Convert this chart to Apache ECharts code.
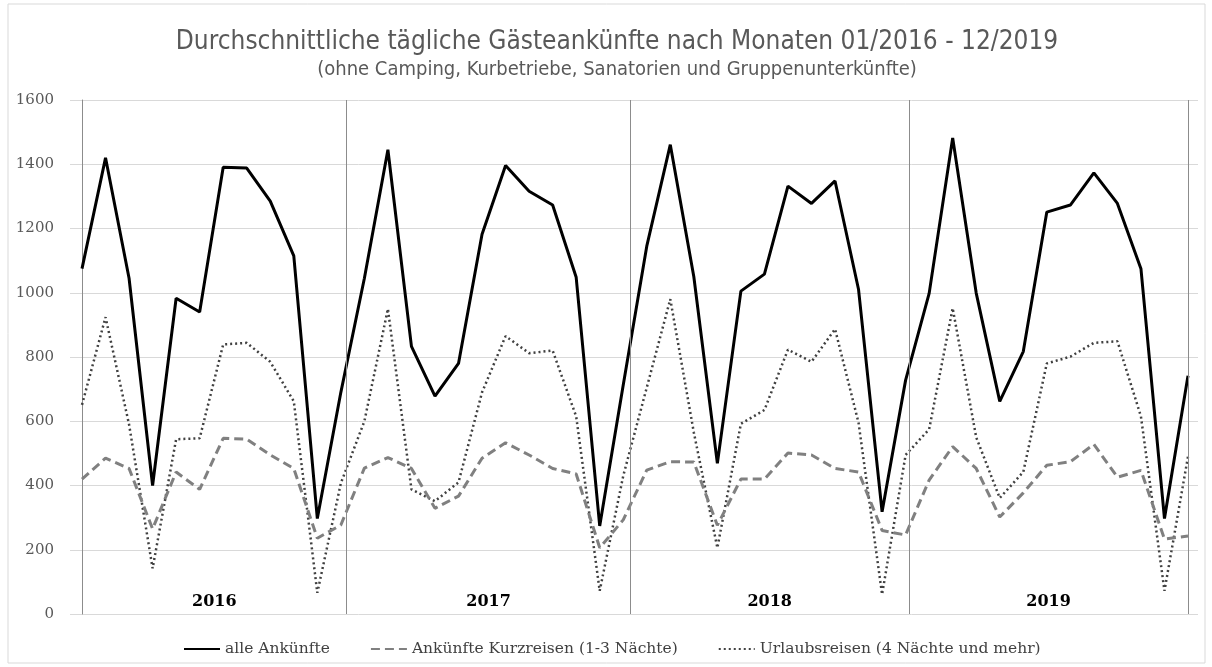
<!DOCTYPE html>
<html>
<head>
<meta charset="utf-8">
<title>Gästeankünfte</title>
<script src="https://cdn.jsdelivr.net/npm/echarts@6/dist/echarts.min.js"></script>
<style>
  html, body { margin: 0; padding: 0; background: #fff; }
  #chart { width: 1212px; height: 667px; }
</style>
</head>
<body>
<div id="chart"></div>
<script>
// Monate 01/2016 - 12/2019
const years = ["2016", "2017", "2018", "2019"];
const months = [];
years.forEach(y => { for (let m = 1; m <= 12; m++) months.push((m < 10 ? "0" + m : "" + m) + "/" + y); });

const alleAnkuenfte = [
  1075, 1420, 1045, 400, 983, 940, 1391, 1388, 1285, 1115, 297, 690,
  1045, 1445, 833, 678, 780, 1182, 1396, 1316, 1273, 1048, 274, 713,
  1145, 1461, 1050, 469, 1005, 1058, 1332, 1278, 1348, 1010, 318, 728,
  998, 1482, 999, 662, 817, 1251, 1273, 1373, 1278, 1075, 297, 742
];
const kurzreisen = [
  420, 485, 453, 265, 442, 388, 547, 544, 495, 453, 236, 277,
  454, 487, 453, 329, 367, 485, 533, 495, 453, 436, 206, 293,
  448, 474, 473, 276, 420, 420, 501, 495, 453, 442, 260, 246,
  417, 521, 453, 302, 377, 463, 474, 528, 426, 447, 233, 243
];
const urlaubsreisen = [
  651, 924, 590, 142, 544, 547, 839, 844, 785, 662, 66, 407,
  600, 950, 388, 351, 410, 690, 865, 812, 820, 615, 72, 430,
  705, 980, 565, 206, 592, 635, 823, 785, 887, 595, 61, 495,
  575, 952, 550, 361, 442, 780, 801, 844, 849, 615, 72, 490
];
// Jahresgrenzen (Position auf der Monatsachse)
const yearBounds = [0, 11.25, 23.3, 35.15, 47];

const wideSerif = '"DejaVu Serif", "Liberation Serif", serif';
const narrow = '"Liberation Sans Narrow", "DejaVu Sans Condensed", sans-serif';

const chart = echarts.init(document.getElementById("chart"));

const yearAreas = years.map((y, i) => [
  { name: y, xAxis: yearBounds[i] },
  { xAxis: yearBounds[i + 1] }
]);
const sepLines = yearBounds.slice(1).map(v => ({ xAxis: v }));

chart.setOption({
  animation: false,
  backgroundColor: "#fff",
  title: {
    text: "Durchschnittliche tägliche Gästeankünfte nach Monaten 01/2016 - 12/2019",
    subtext: "(ohne Camping, Kurbetriebe, Sanatorien und Gruppenunterkünfte)",
    left: 612,
    textAlign: "center",
    top: 24,
    itemGap: 5,
    textStyle: { fontFamily: narrow, fontSize: 26, fontWeight: "normal", color: "#595959" },
    subtextStyle: { fontFamily: narrow, fontSize: 20, color: "#595959" }
  },
  legend: {
    bottom: 5,
    left: 178,
    itemWidth: 36,
    itemHeight: 10,
    itemGap: 40,
    itemStyle: { opacity: 0 },
    textStyle: { fontFamily: wideSerif, fontSize: 15.5, color: "#404040" },
    data: ["alle Ankünfte", "Ankünfte Kurzreisen (1-3 Nächte)", "Urlaubsreisen (4 Nächte und mehr)"]
  },
  grid: { left: 82, right: 24, top: 100, bottom: 53 },
  xAxis: [
    {
      type: "category",
      data: months,
      boundaryGap: false,
      axisLine: { show: false },
      axisTick: { show: false },
      axisLabel: { show: false }
    },
    {
      type: "value",
      min: 0,
      max: 47,
      show: false
    }
  ],
  yAxis: [
    {
      type: "value",
      min: 0,
      max: 1600,
      interval: 200,
      axisLine: { show: true, lineStyle: { color: "#8c8c8c", width: 1 } },
      axisTick: { show: true, length: 12, lineStyle: { color: "#d9d9d9" } },
      axisLabel: { margin: 28, fontFamily: wideSerif, fontSize: 15, color: "#595959", formatter: v => String(v) },
      splitLine: { lineStyle: { color: "#d9d9d9", width: 1 } }
    },
    {
      type: "value",
      position: "right",
      min: 0,
      max: 1600,
      interval: 200,
      axisLine: { show: false },
      axisTick: { show: true, length: 10, lineStyle: { color: "#d9d9d9" } },
      axisLabel: { show: false },
      splitLine: { show: false }
    }
  ],
  graphic: [
    {
      type: "rect",
      shape: { x: 8, y: 4, width: 1197, height: 659 },
      style: { fill: "none", stroke: "#d9d9d9", lineWidth: 1 },
      silent: true
    }
  ],
  series: [
    {
      name: "Jahre",
      type: "line",
      xAxisIndex: 1,
      data: [],
      silent: true,
      markLine: {
        silent: true,
        symbol: "none",
        label: { show: false },
        lineStyle: { color: "#8c8c8c", width: 1, type: "solid" },
        data: sepLines
      },
      markArea: {
        silent: true,
        itemStyle: { color: "rgba(0,0,0,0)" },
        label: {
          position: "insideBottom",
          distance: 4,
          fontFamily: wideSerif,
          fontSize: 16,
          fontWeight: "bold",
          color: "#000"
        },
        data: yearAreas
      }
    },
    {
      name: "Urlaubsreisen (4 Nächte und mehr)",
      type: "line",
      data: urlaubsreisen,
      symbol: "none",
      color: "#404040",
      lineStyle: { color: "#404040", width: 2.5, type: [2, 3] }
    },
    {
      name: "Ankünfte Kurzreisen (1-3 Nächte)",
      type: "line",
      data: kurzreisen,
      symbol: "none",
      color: "#808080",
      lineStyle: { color: "#808080", width: 3, type: [9, 5] }
    },
    {
      name: "alle Ankünfte",
      type: "line",
      data: alleAnkuenfte,
      symbol: "none",
      color: "#000",
      lineStyle: { color: "#000", width: 3 }
    }
  ]
});
</script>
</body>
</html>
